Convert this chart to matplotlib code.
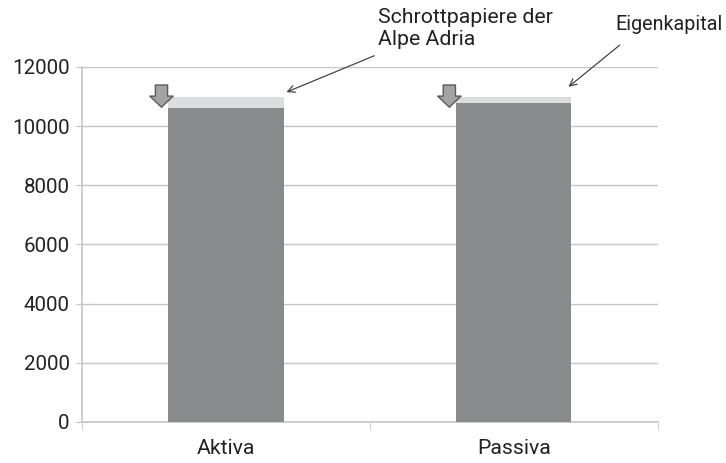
import matplotlib.pyplot as plt

plt.rcParams['font.family'] = ['Roboto', 'DejaVu Sans']

categories = ["Aktiva", "Passiva"]
base = [10620, 10770]
top_part = [370, 225]
labels = ["Schrottpapiere der\nAlpe Adria", "Eigenkapital"]
yticks = [0, 2000, 4000, 6000, 8000, 10000, 12000]

dark = "#898a8c"
light = "#dcdddf"
grid_c = "#c6c6c6"
txt = "#222222"

fig = plt.figure(figsize=(7.26, 4.63), dpi=100)
ax = fig.add_axes([0.113, 0.0886, 0.793, 0.7667])

x = list(range(len(categories)))
w = 0.4
ax.bar(x, base, width=w, color=dark, zorder=3)
ax.bar(x, top_part, width=w, bottom=base, color=light, zorder=3)

ax.set_xlim(-0.5, 1.5)
ax.set_ylim(0, 12000)
ax.set_yticks(yticks)
ax.set_yticklabels([str(v) for v in yticks])
ax.set_xticks(x)
ax.set_xticklabels(categories)
ax.set_xticks([-0.5, 0.5, 1.5], minor=True)

ax.grid(axis='y', color=grid_c, linewidth=1, zorder=0)
for s in ['top', 'right']:
    ax.spines[s].set_visible(False)
for s in ['left', 'bottom']:
    ax.spines[s].set_color(grid_c)
    ax.spines[s].set_linewidth(1.2)
ax.tick_params(axis='y', direction='inout', length=8, color=grid_c, labelsize=14.8, labelcolor=txt, pad=5)
ax.tick_params(axis='x', which='major', length=0, labelsize=15.3, labelcolor=txt, pad=12)
ax.tick_params(axis='x', which='minor', direction='out', length=6, color=grid_c)

# block arrows at the top-left of each bar
for i in x:
    ax.annotate("", xy=(i - w / 2 - 0.024, 10640), xytext=(0, 16), textcoords="offset points",
                arrowprops=dict(arrowstyle="simple,head_length=0.5,head_width=1.05,tail_width=0.55",
                                mutation_scale=16, fc="#a3a3a3", ec="#5a5a5a", lw=1.0,
                                shrinkA=0, shrinkB=0),
                annotation_clip=False, zorder=5)

# callouts
ax.annotate("", xy=(0.21, 11150), xytext=(0.515, 12380),
            arrowprops=dict(arrowstyle="->,head_length=0.5,head_width=0.25", color="#444444",
                            lw=0.9, shrinkA=0, shrinkB=0),
            annotation_clip=False)
ax.text(0.528, 13990, labels[0], ha='left', va='top', fontsize=15.3, color=txt,
        linespacing=1.22, clip_on=False)
ax.annotate("", xy=(1.19, 11330), xytext=(1.368, 12740),
            arrowprops=dict(arrowstyle="->,head_length=0.5,head_width=0.25", color="#444444",
                            lw=0.9, shrinkA=0, shrinkB=0),
            annotation_clip=False)
ax.text(1.354, 13760, labels[1], ha='left', va='top', fontsize=14.2, color=txt, clip_on=False)

fig.savefig("out.png", dpi=100)
